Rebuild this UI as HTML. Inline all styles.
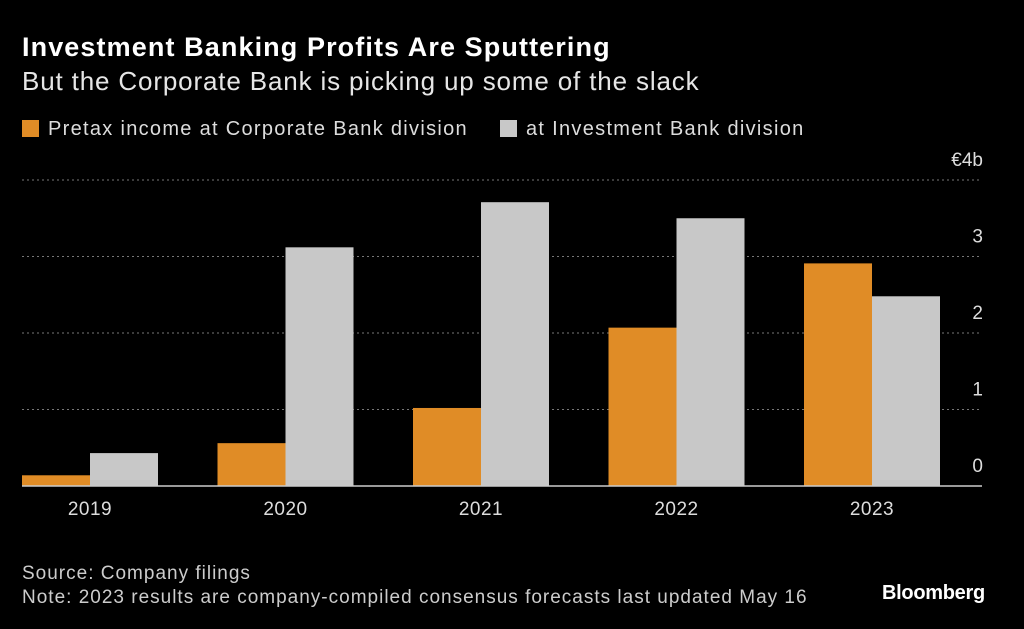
<!DOCTYPE html>
<html><head><meta charset="utf-8"><style>
body{margin:0;background:#000;width:1024px;height:629px;overflow:hidden;font-family:"Liberation Sans",sans-serif;color:#fff}
.t{position:absolute;white-space:nowrap}
</style></head><body>
<div class="t" style="left:22px;top:32px;font-size:27px;font-weight:bold;letter-spacing:1.1px">Investment Banking Profits Are Sputtering</div>
<div class="t" style="left:22px;top:66px;font-size:26px;letter-spacing:0.85px;color:#e6e6e6">But the Corporate Bank is picking up some of the slack</div>
<div class="t" style="left:22px;top:118px;font-size:20px;letter-spacing:1.3px;color:#ddd"><span style="display:inline-block;width:17px;height:17px;background:#e08c26;margin-right:9px;vertical-align:-2px"></span>Pretax income at Corporate Bank division</div>
<div class="t" style="left:500px;top:118px;font-size:20px;letter-spacing:1.3px;color:#ddd"><span style="display:inline-block;width:17px;height:17px;background:#c8c8c8;margin-right:9px;vertical-align:-2px"></span>at Investment Bank division</div>
<svg id="c" width="1024" height="629" style="position:absolute;left:0;top:0"></svg>
<div class="t" style="left:22px;top:563px;font-size:19px;letter-spacing:1.0px;color:#ccc">Source: Company filings</div>
<div class="t" style="left:22px;top:587px;font-size:19px;letter-spacing:1.0px;color:#ccc">Note: 2023 results are company-compiled consensus forecasts last updated May 16</div>
<div class="t" style="left:882px;top:582px;font-size:20px;font-weight:bold;letter-spacing:-0.3px">Bloomberg</div>
<script>
const categories=["2019","2020","2021","2022","2023"];
const corporate=[0.14,0.56,1.02,2.07,2.91];
const investment=[0.43,3.12,3.71,3.50,2.48];
const ticks=[0,1,2,3,4];
const tickLabels=["0","1","2","3","€4b"];
const svg=document.getElementById('c');
const NS="http://www.w3.org/2000/svg";
const y=v=>486-v*76.5;
const xc=i=>90+i*195.5;
function mk(t,a){const e=document.createElementNS(NS,t);for(const k in a)e.setAttribute(k,a[k]);svg.appendChild(e);return e;}
ticks.forEach((t,i)=>{
 if(t>0){const g=mk('line',{x1:22,x2:982,y1:y(t),y2:y(t),stroke:'#777','stroke-dasharray':'2,3'});
 
 }
 const l=mk('text',{x:983,y:y(t)-14,'text-anchor':'end','font-size':19,fill:'#ddd','font-family':'Liberation Sans'});
 l.textContent=tickLabels[i];
 
 
});
categories.forEach((c,i)=>{
 const b1=mk('rect',{x:xc(i)-68,y:y(corporate[i]),width:68,height:486-y(corporate[i]),fill:'#e08c26'});
 
 
 const b2=mk('rect',{x:xc(i),y:y(investment[i]),width:68,height:486-y(investment[i]),fill:'#c8c8c8'});
 
 
 const t=mk('text',{x:xc(i),y:515,'text-anchor':'middle','font-size':19,'letter-spacing':0.5,fill:'#ddd','font-family':'Liberation Sans'});
 t.textContent=c;
 
 
});
const ax=mk('line',{x1:22,x2:982,y1:486,y2:486,stroke:'#ccc','stroke-width':1.5});


</script>
</body></html>
